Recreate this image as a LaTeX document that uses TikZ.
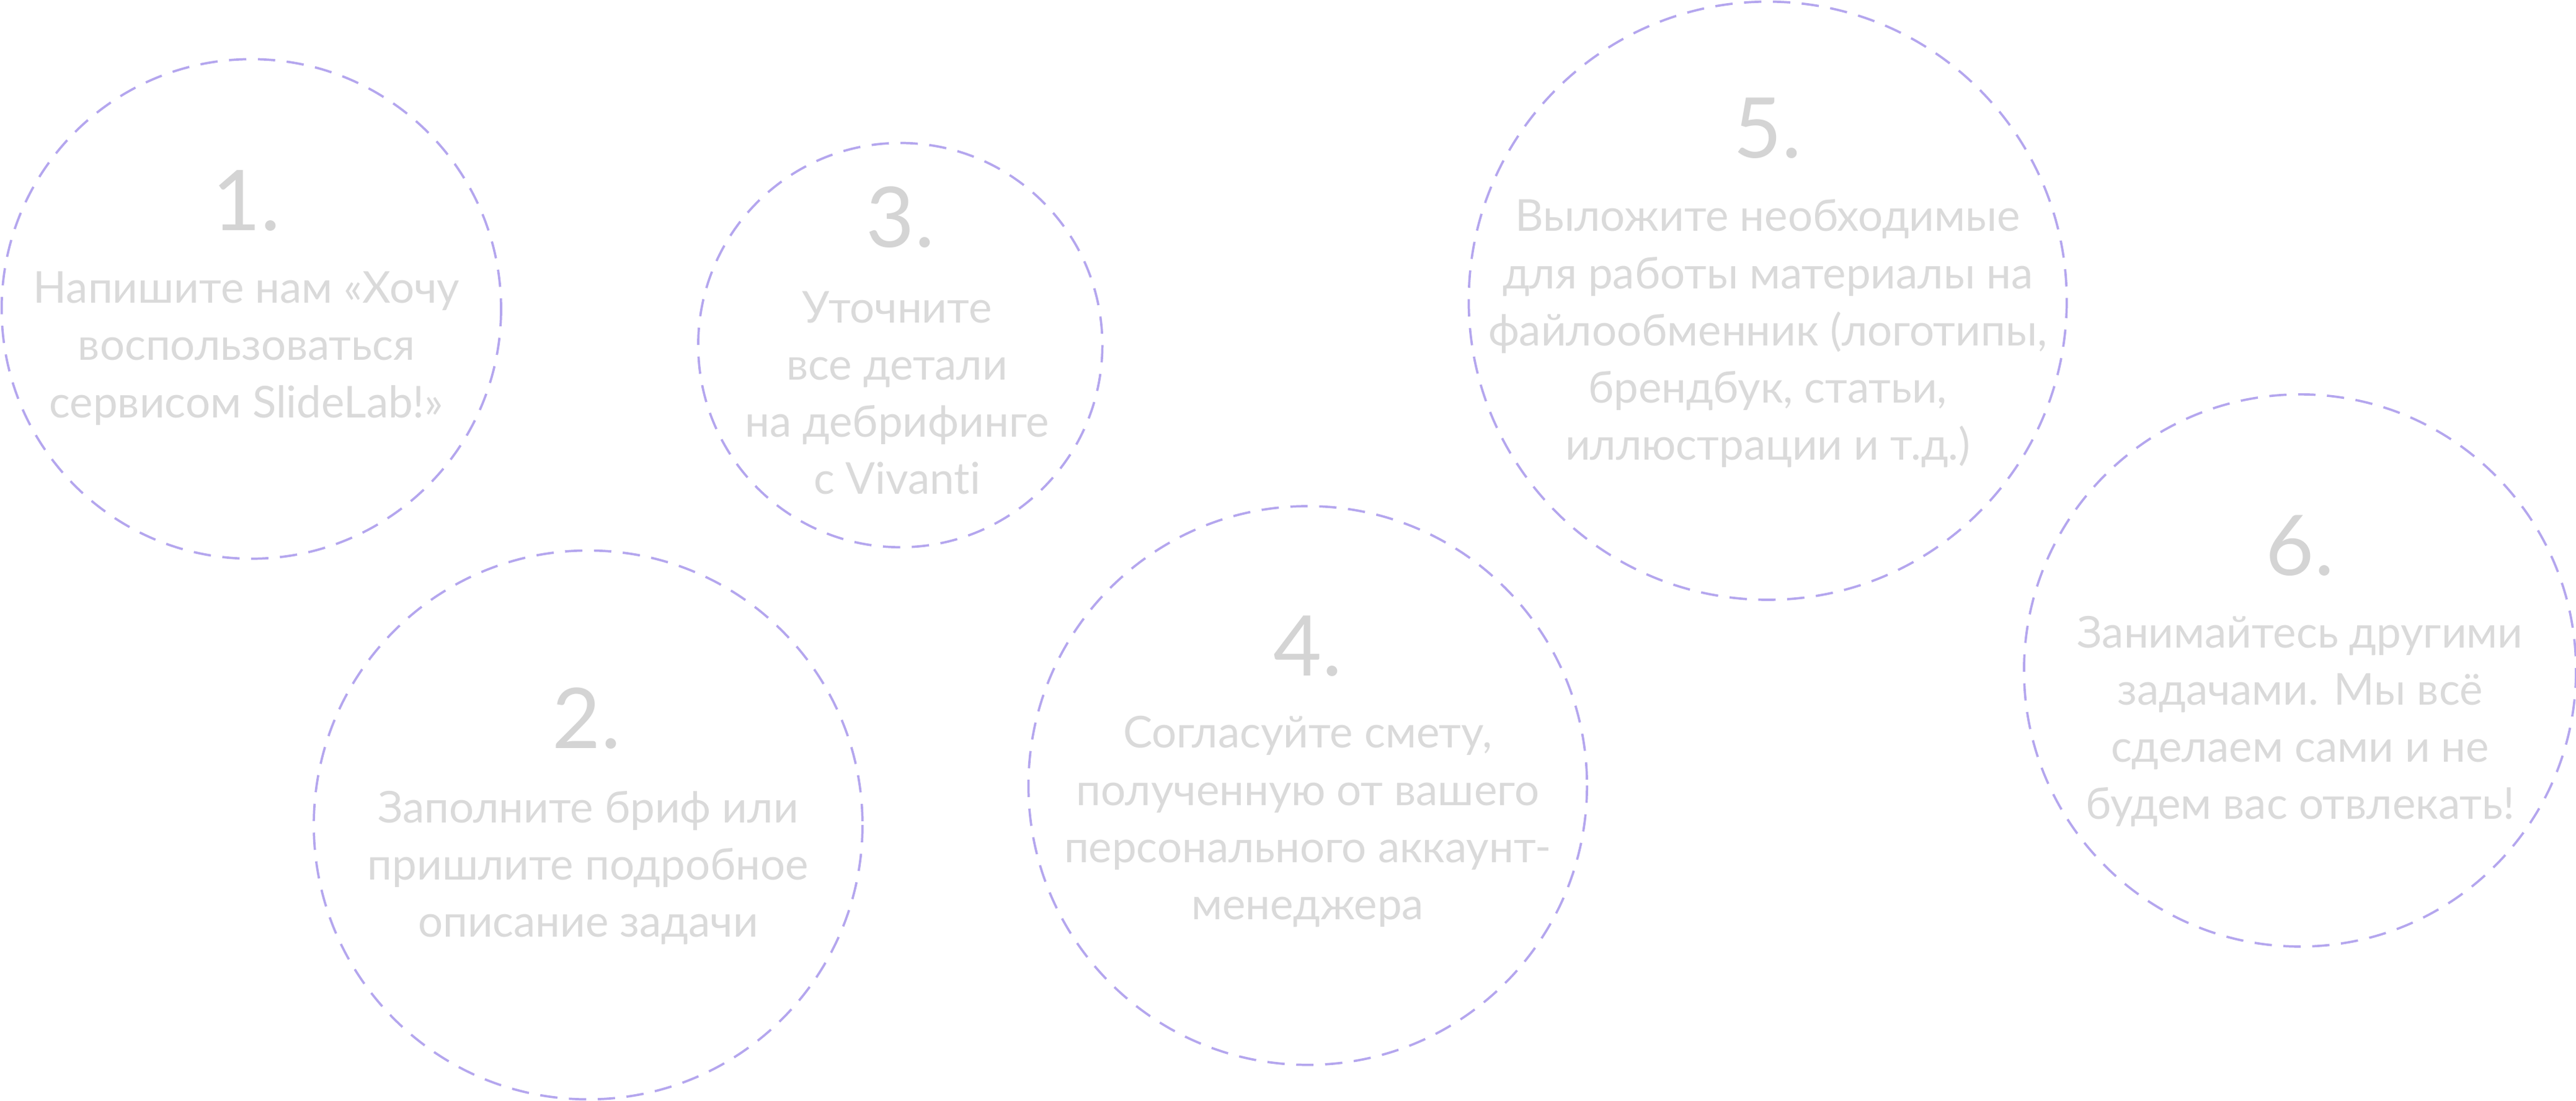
\documentclass[tikz,border=0pt]{standalone}
\usepackage{fontspec}
\setmainfont{Lato}[Ligatures=NoCommon]
\definecolor{ring}{HTML}{B4A6EE}
\definecolor{txt}{HTML}{DADADA}
\definecolor{num}{HTML}{D4D4D4}
\begin{document}
\begin{tikzpicture}[x=0.02cm,y=-0.02cm,
  ring/.style={draw=ring,dash pattern=on 6pt off 4pt,line width=0.8pt},
  body/.style={text=txt,align=center,font=\fontsize{15.2}{19.8}\selectfont},
  numb/.style={text=num,font=\fontsize{29}{32}\selectfont}]
\useasboundingbox (0,0) rectangle (1568,670);
\draw[ring] (153,188) circle (152);
\draw[ring] (358,502) circle (167);
\draw[ring] (548,210) circle (123);
\draw[ring] (796,478) circle (170);
\draw[ring] (1076,183) circle (182);
\draw[ring] (1400,408) circle (168);
\node[numb] (n1) at (150,122) {1.};
\node[body] (t1) at (150,212) {Напишите нам «Хочу\\воспользоваться\\сервисом SlideLab!»};
\node[numb] (n2) at (357,437) {2.};
\node[body] (t2) at (358,528) {Заполните бриф или\\пришлите подробное\\описание задачи};
\node[numb] (n3) at (548,132) {3.};
\node[body] (t3) at (546,239) {Уточните\\все детали\\на дебрифинге\\с Vivanti};
\node[numb] (n4) at (796,393) {4.};
\node[body] (t4) at (796,500) {Согласуйте смету,\\полученную от вашего\\персонального аккаунт-\\менеджера};
\node[numb] (n5) at (1076,78) {5.};
\node[body] (t5) at (1076,203) {Выложите необходимые\\для работы материалы на\\файлообменник (логотипы,\\брендбук, статьи,\\иллюстрации и т.д.)};
\node[numb] (n6) at (1400,332) {6.};
\node[body] (t6) at (1400,439) {Занимайтесь другими\\задачами. Мы всё\\сделаем сами и не\\будем вас отвлекать!};
\end{tikzpicture}
\end{document}
